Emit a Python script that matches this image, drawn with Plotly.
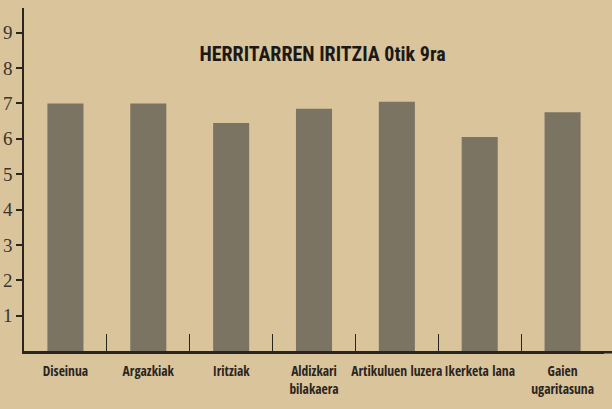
import plotly.graph_objects as go

# Survey results: readers' rating of each aspect, on a 0-9 scale
categories = ["Diseinua", "Argazkiak", "Iritziak", "Aldizkari<br>bilakaera",
              "Artikuluen luzera", "Ikerketa lana", "Gaien<br>ugaritasuna"]
ratings = [7.0, 7.0, 6.45, 6.85, 7.05, 6.05, 6.75]
y_ticks = [1, 2, 3, 4, 5, 6, 7, 8, 9]
title_text = "HERRITARREN IRITZIA 0tik 9ra"

paper = "#d9c49b"
ink = "#2a251f"
bar_color = "#7c7463"

fig = go.Figure(
    go.Bar(
        x=categories,
        y=ratings,
        marker=dict(color=bar_color, line=dict(width=0)),
        hoverinfo="x+y",
    )
)

W, H = 612, 409
M_TOP, M_BOTTOM = 8, 58
AXIS_W = 2.5
plot_h = H - M_TOP - M_BOTTOM

fig.update_layout(
    width=W,
    height=H,
    paper_bgcolor=paper,
    plot_bgcolor=paper,
    margin=dict(l=24, r=8, t=M_TOP, b=M_BOTTOM),
    bargap=0.565,
    showlegend=False,
    title=dict(
        text=title_text,
        font=dict(family="Roboto Condensed", size=20, color="#1c1915", weight=700),
        x=315 / W,
        xanchor="center",
        xref="paper",
        y=1 - 54 / H,
        yanchor="middle",
        yref="container",
    ),
    # baseline runs on to the right edge of the page, level with the x axis line
    shapes=[dict(type="line", xref="paper", yref="paper",
                 x0=0.995, x1=1.03,
                 y0=-(AXIS_W / 2) / plot_h, y1=-(AXIS_W / 2) / plot_h,
                 line=dict(color=ink, width=AXIS_W))],
)

fig.update_xaxes(
    range=[-0.5, 6.5],
    automargin=False,
    showline=True,
    linecolor=ink,
    linewidth=AXIS_W,
    showgrid=False,
    zeroline=False,
    ticks="inside",
    tickson="boundaries",
    ticklen=17,
    tickwidth=1.2,
    tickcolor=ink,
    tickfont=dict(family="Open Sans Condensed", size=13.5, color=ink, weight=700),
    tickangle=0,
    ticklabelstandoff=6,
)

fig.update_yaxes(
    range=[0, 9.7],
    automargin=False,
    tickvals=y_ticks,
    ticktext=[str(v) for v in y_ticks],
    showline=True,
    linecolor=ink,
    linewidth=1.5,
    showgrid=False,
    zeroline=False,
    ticks="outside",
    ticklen=6,
    tickwidth=1.5,
    tickcolor=ink,
    tickfont=dict(family="Liberation Serif", size=19, color="#3a342c"),
    ticklabelstandoff=0,
)

fig.write_html("out.html")
